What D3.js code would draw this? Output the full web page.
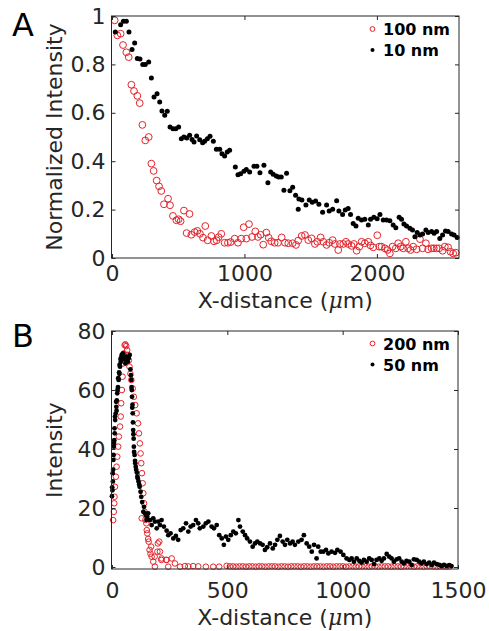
<!DOCTYPE html>
<html>
<head>
<meta charset="utf-8">
<script src="https://cdn.jsdelivr.net/npm/d3@7"></script>
<style>
  body { margin: 0; background: #fff; }
  svg { display: block; font-family: "DejaVu Sans", sans-serif; }
</style>
</head>
<body>
<div id="chart"></div>
<script>
// panel A: normalized intensity vs x-distance (um)
const a100X = [20,40,65,83,108,126,146,166,191,209,229,251,277,297,314,337,355,372,392,423,438,460,486,503,518,543,563,585,599,624,644,664,687,704,722,750,770,790,805,825,850,875,896,926,951,976,994,1014,1034,1057,1082,1102,1122,1142,1165,1183,1202,1228,1253,1281,1306,1331,1364,1389,1406,1432,1457,1482,1507,1532,1550,1575,1595,1620,1640,1666,1683,1708,1721,1746,1766,1783,1809,1826,1847,1867,1884,1909,1935,1952,1972,2003,2018,2035,2060,2081,2098,2118,2143,2161,2179,2199,2219,2236,2254,2274,2300,2325,2345,2370,2387,2413,2430,2451,2470,2496,2513,2538,2556,2576,2596];
const a100Y = [.982,.92,.927,.88,.85,.83,.716,.69,.67,.64,.55,.486,.50,.39,.36,.32,.296,.277,.222,.245,.218,.174,.156,.16,.152,.196,.103,.182,.096,.107,.112,.10,.084,.132,.073,.091,.069,.073,.086,.10,.063,.063,.066,.08,.063,.08,.127,.08,.14,.087,.11,.087,.096,.055,.105,.084,.069,.063,.063,.085,.063,.061,.061,.054,.072,.091,.095,.074,.081,.058,.067,.085,.067,.054,.063,.074,.058,.033,.058,.058,.067,.058,.05,.058,.03,.047,.067,.061,.067,.052,.044,.094,.047,.047,.04,.033,.019,.047,.04,.061,.047,.04,.067,.04,.033,.047,.036,.078,.04,.061,.036,.04,.04,.04,.04,.03,.047,.044,.026,.019,.022];

const a10X = [25,65,86,108,128,151,171,191,211,232,251,277,297,317,340,360,377,398,417,438,460,481,503,523,543,564,586,604,619,639,662,684,699,720,740,765,788,813,830,850,870,888,931,951,971,996,1014,1039,1072,1094,1117,1147,1177,1198,1217,1240,1258,1278,1298,1318,1343,1364,1386,1406,1411,1434,1464,1489,1512,1537,1562,1590,1620,1640,1666,1696,1713,1741,1761,1783,1801,1821,1842,1859,1884,1909,1935,1952,1977,2002,2023,2048,2073,2098,2123,2143,2168,2186,2204,2224,2249,2269,2287,2304,2325,2345,2370,2387,2413,2432,2451,2475,2496,2518,2538,2564,2583,2606];
const a10Y = [.934,.964,.978,.978,.934,.862,.888,.824,.822,.80,.80,.81,.744,.665,.679,.645,.607,.59,.606,.541,.534,.534,.541,.493,.50,.496,.507,.49,.479,.504,.489,.476,.482,.493,.503,.482,.449,.449,.431,.421,.438,.445,.376,.344,.348,.358,.366,.355,.379,.379,.352,.383,.311,.355,.346,.339,.335,.335,.28,.35,.278,.292,.259,.201,.244,.24,.219,.24,.23,.236,.222,.189,.219,.194,.201,.237,.194,.18,.198,.205,.18,.143,.132,.164,.157,.16,.136,.16,.168,.162,.18,.157,.157,.154,.136,.125,.168,.16,.14,.132,.123,.116,.088,.105,.095,.099,.116,.105,.109,.102,.109,.081,.095,.112,.109,.099,.095,.085];

// panel B: intensity vs x-distance (um)
const b200X = [5,8,10,11,13,17,20,23,27,30,35,38,40,43,46,49,52,55,58,62,66,69,73,76,80,84,90,95,101,107,113,117,121,124,127,129,130,133,136,139,142,145,149,151,153,157,159,163,167,170,172,179,185,186,197,199,205,208,214,215,235,237,244,259,273,295,316,331,352,374,407,439,465,497,511,525,539,553,567,581,595,609,623,637,651,665,679,693,707,721,735,749,763,777,791,805,819,833,847,861,875,889,903,917,931,945,959,973,987,1001,1015,1029,1043,1057,1071,1085,1099,1113,1127,1141,1155,1169,1183,1197,1211,1225,1239,1253,1267,1281,1295,1309,1323,1337,1351,1365,1379,1393,1407,1421,1435,1449,1463,1477,1491];
const b200Y = [15.9,18.7,21.6,23.8,27.2,30.6,34,37.4,40.8,44.2,47.6,51,55.5,60,64.5,69,72.4,75.2,75.5,74.9,73.5,71.9,70,67.9,65.5,63.4,60.5,57.7,54.9,52.1,48.7,45.3,41.9,38.5,35.2,16.5,31.8,28.4,25,21.6,18.7,16,14.8,12.5,11.4,9.5,8.6,5.8,4.5,6.9,3.5,1.8,3.5,0.1,5.2,8,8.6,5.2,2.4,2.9,2.4,2.4,0.1,2.9,1.2,0.1,0.3,0.2,0.3,0.2,0.1,0.1,0.1,0.4,0.2,0.2,0.1,0.2,0.2,0.1,0.2,0.2,0.1,0.2,0.2,0.1,0.2,0.2,0.2,0.1,0.2,0.2,0.1,0.2,0.2,0.2,0.1,0.2,0.2,0.1,0.2,0.2,0.2,0.1,0.2,0.2,0.1,0.2,0.2,0.2,0.1,0.2,0.2,0.1,0.2,0.2,0.2,0.1,0.2,0.2,0.1,0.2,0.2,0.2,0.1,0.2,0.2,0.1,0.2,0.2,0.2,0.1,0.2,0.2,0.1,0.2,0.2,0.2,0.1,0.2,0.2,0.1,0.2];

const b50X = [0,1,2,3,4,5,6,7,8,9,10,11,12,13,14,16,18,19,20,21,23,24,26,27,29,31,32,33,35,37,38,41,43,45,48,52,55,58,62,66,69,73,77,80,82,84,85,86,87,88,89,90,91,92,93,94,95,96,98,100,101,103,105,108,110,112,115,118,120,124,127,131,136,139,144,147,150,153,157,165,172,179,186,194,201,208,215,225,237,244,254,266,277,287,298,309,321,331,341,352,364,374,381,396,407,418,432,442,454,465,476,485,494,504,515,526,537,548,555,567,577,586,598,610,620,630,642,653,663,673,685,697,707,717,728,740,750,760,772,783,793,808,822,832,844,855,866,876,887,894,905,916,928,938,952,967,977,991,1003,1017,1029,1039,1049,1061,1072,1082,1092,1104,1115,1126,1136,1147,1159,1169,1179,1191,1202,1212,1222,1234,1245,1256,1266,1277,1289,1299,1309,1321,1332,1342,1352,1364,1375,1386,1396,1408,1419,1429,1439,1451,1462,1472];
const b50Y = [24,27,26,31.8,29,33,36.3,38,40.8,42,43,47,45.3,51,49.8,52,56,54.3,53,56.5,58.9,60,61,64,63.4,66,65.5,68.5,67.9,70.5,69.5,71.3,72,70.5,72.4,71,70.3,69,71.3,70.5,69.6,70.8,71.9,67,65,63.4,61,60,57.7,54,55,52.1,49,46.4,45,43.5,40.8,39,38,36,35.2,34,33,32,30.6,30,29,28,27.2,25.5,23.8,22,18.7,20.4,18.2,17.6,15.9,17,18.2,15.9,14.2,16.5,15.4,13.1,15.4,14.2,15.9,13.7,12.3,10.8,11.4,9.7,10.5,9.2,12.5,13.1,14.8,12,13.7,14.2,15.9,14.8,13.1,13.7,14.8,15.4,13.7,13.1,14.2,10.8,9.7,7.5,10.3,9.2,10.8,12,11.4,15.9,13.7,12,10.8,9.7,8.6,6.9,8,8.6,8,7.5,5.8,6.7,8,6.3,7.5,9.2,10.5,8.6,7.5,9.2,8,8.6,7.5,8.6,9.2,10.8,8,6.9,5.2,7.5,2.9,6.9,5.2,5.2,5.8,4.6,5.2,4.8,5.8,5.2,4.1,2.9,2.4,2.9,1.8,2.9,2.1,1.5,2.4,1.8,2.9,2.4,1,2.4,2.9,2.1,2.9,4.4,3.5,2.9,1.8,2.6,2.9,1.8,1.2,2.1,1.8,0.7,2.6,2.4,1.8,1.2,1.8,1,1.5,0.7,1.5,1,0.7,0.3,0.7,0.3,0.6,0.3];

const aXTicks = [0, 1000, 2000];
const aYTicks = [0, 0.2, 0.4, 0.6, 0.8, 1];
const aYTickLabels = ["0", "0.2", "0.4", "0.6", "0.8", "1"];
const bXTicks = [0, 500, 1000, 1500];
const bYTicks = [0, 20, 40, 60, 80];

const width = 489;
const height = 631;
const red = "#e3242b";
const ink = "#262626";

const svg = d3.select("#chart").append("svg")
  .attr("width", width)
  .attr("height", height);

function drawPanel(p) {
  const x = d3.scaleLinear().domain(p.xDomain).range([p.left, p.right]);
  const y = d3.scaleLinear().domain(p.yDomain).range([p.bottom, p.top]);
  const g = svg.append("g");

  // data first, box on top
  const circles = d3.zip(p.redX, p.redY);
  const dots = d3.zip(p.blackX, p.blackY);

  g.append("g").selectAll("circle")
    .data(circles)
    .join("circle")
    .attr("cx", d => x(d[0]))
    .attr("cy", d => y(d[1]))
    .attr("r", p.redR)
    .attr("fill", "none")
    .attr("stroke", red)
    .attr("stroke-width", 1);

  g.append("g").selectAll("circle")
    .data(dots)
    .join("circle")
    .attr("cx", d => x(d[0]))
    .attr("cy", d => y(d[1]))
    .attr("r", p.blackR)
    .attr("fill", "#000");

  // axes, ticks pointing inward
  const fmtY = d => p.yLabels ? p.yLabels[p.yTicks.indexOf(d)] : d;
  const left = g.append("g").attr("transform", `translate(${p.left},0)`)
    .call(d3.axisLeft(y).tickValues(p.yTicks).tickFormat(fmtY).tickSizeInner(-4).tickSizeOuter(0).tickPadding(6));
  const bottom = g.append("g").attr("transform", `translate(0,${p.bottom})`)
    .call(d3.axisBottom(x).tickValues(p.xTicks).tickFormat(d => d).tickSizeInner(-4).tickSizeOuter(0).tickPadding(p.xPad));
  g.append("g").attr("transform", `translate(${p.right},0)`)
    .call(d3.axisRight(y).tickValues(p.yTicks).tickFormat("").tickSizeInner(-4).tickSizeOuter(0));
  g.append("g").attr("transform", `translate(0,${p.top})`)
    .call(d3.axisTop(x).tickValues(p.xTicks).tickFormat("").tickSizeInner(-4).tickSizeOuter(0));

  g.selectAll(".domain").remove();
  g.selectAll(".tick line").attr("stroke", ink);
  [left, bottom].forEach(a => a.selectAll("text")
    .attr("fill", ink)
    .style("font-family", "'DejaVu Sans'")
    .style("font-size", "22px"));

  g.append("rect")
    .attr("x", p.left).attr("y", p.top)
    .attr("width", p.right - p.left).attr("height", p.bottom - p.top)
    .attr("fill", "none").attr("stroke", ink).attr("stroke-width", 1);

  // axis titles
  const xt = g.append("text")
    .attr("x", (p.left + p.right) / 2)
    .attr("y", p.xTitleY)
    .attr("text-anchor", "middle")
    .attr("fill", ink)
    .style("font-size", "22px");
  xt.append("tspan").text("X-distance (");
  xt.append("tspan").style("font-style", "italic").style("font-family", "'DejaVu Serif'").text("μ");
  xt.append("tspan").text("m)");

  g.append("text")
    .attr("transform", `translate(${p.yTitleX},${(p.top + p.bottom) / 2}) rotate(-90)`)
    .attr("text-anchor", "middle")
    .attr("fill", ink)
    .style("font-size", "22px")
    .text(p.yTitle);

  // panel letter
  g.append("text")
    .attr("x", 12)
    .attr("y", p.letterY)
    .attr("fill", "#000")
    .style("font-size", "32px")
    .text(p.letter);

  // legend
  const lg = g.append("g");
  p.legend.forEach((name, i) => {
    const ly = p.legendY + i * 21;
    if (i === 0) {
      lg.append("circle").attr("cx", 372.5).attr("cy", ly - 6).attr("r", 2.4)
        .attr("fill", "none").attr("stroke", red).attr("stroke-width", 1);
    } else {
      lg.append("circle").attr("cx", 372.5).attr("cy", ly - 6).attr("r", 2)
        .attr("fill", "#000");
    }
    lg.append("text")
      .attr("x", 383)
      .attr("y", ly)
      .attr("fill", "#000")
      .style("font-size", "16px")
      .style("font-weight", "bold")
      .text(name);
  });
}

drawPanel({
  letter: "A", letterY: 36,
  left: 111.5, right: 459, top: 16, bottom: 258,
  xDomain: [-4, 2620], yDomain: [0, 1],
  xTicks: aXTicks, yTicks: aYTicks, yLabels: aYTickLabels,
  xPad: 7, xTitleY: 308, yTitleX: 62,
  yTitle: "Normalized Intensity",
  redX: a100X, redY: a100Y, blackX: a10X, blackY: a10Y,
  redR: 3.4, blackR: 2.5,
  legend: ["100 nm", "10 nm"], legendY: 35
});

drawPanel({
  letter: "B", letterY: 347,
  left: 111.5, right: 458, top: 331, bottom: 569,
  xDomain: [-2, 1500], yDomain: [-0.68, 80],
  xTicks: bXTicks, yTicks: bYTicks, yLabels: null,
  xPad: 13, xTitleY: 625, yTitleX: 62,
  yTitle: "Intensity",
  redX: b200X, redY: b200Y, blackX: b50X, blackY: b50Y,
  redR: 2.8, blackR: 2.4,
  legend: ["200 nm", "50 nm"], legendY: 349.5
});
</script>
</body>
</html>
